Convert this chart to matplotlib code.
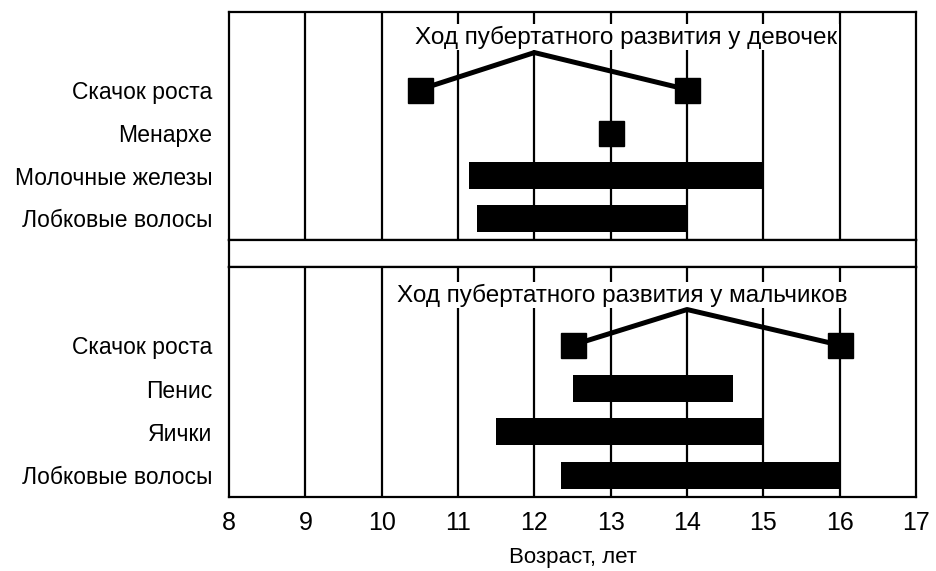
import matplotlib
matplotlib.use("Agg")
import matplotlib.pyplot as plt

plt.rcParams['font.family'] = ['Liberation Sans', 'DejaVu Sans']

# Girls
girls_rows = ["Лобковые волосы", "Молочные железы", "Менархе", "Скачок роста"]
girls_spurt_x = [10.5, 12, 14]
girls_spurt_y = [3, 3.86, 3]
girls_menarche = 13
girls_bars_start = [11.25, 11.15]  # pubic hair, breasts
girls_bars_end = [14, 15]

# Boys
boys_rows = ["Лобковые волосы", "Яички", "Пенис", "Скачок роста"]
boys_spurt_x = [12.5, 14, 16]
boys_spurt_y = [3, 3.82, 3]
boys_bars_start = [12.35, 11.5, 12.5]  # pubic hair, testes, penis
boys_bars_end = [16, 15, 14.6]

grid_x = list(range(9, 17))
xticks = list(range(8, 18))

fig = plt.figure(figsize=(9.36, 5.71), dpi=100)
ax1 = fig.add_axes([0.2447, 0.5797, 0.734, 0.399])
strip = fig.add_axes([0.2447, 0.5324, 0.734, 0.0473])
ax2 = fig.add_axes([0.2447, 0.1296, 0.734, 0.4028])


def setup(ax, rows, title, tx, ty):
    ax.set_xlim(8, 17)
    ax.set_ylim(-0.5, 4.8)
    for g in grid_x:
        ax.axvline(g, color='black', lw=1.6, zorder=1)
    ax.set_yticks(range(len(rows)))
    ax.set_yticklabels(rows, fontsize=16.5)
    ax.tick_params(axis='y', length=0, pad=12)
    ax.set_xticks([])
    for s in ax.spines.values():
        s.set_linewidth(1.6)
    ax.text(tx, ty, title, ha='center', va='center', fontsize=17.5,
            bbox=dict(facecolor='white', edgecolor='none', pad=1), zorder=2)


setup(ax1, girls_rows, "Ход пубертатного развития у девочек", 13.2, 4.22)
setup(ax2, boys_rows, "Ход пубертатного развития у мальчиков", 13.15, 4.15)

bar_h = 0.62
for i in range(len(girls_bars_start)):
    ax1.barh(i, girls_bars_end[i] - girls_bars_start[i], left=girls_bars_start[i],
             height=bar_h, color='black', zorder=3)
ax1.plot(girls_spurt_x, girls_spurt_y, color='black', lw=3.6, zorder=3)
ax1.plot([girls_spurt_x[0], girls_spurt_x[-1]], [3, 3], 's', color='black',
         markersize=18, zorder=4)
ax1.plot([girls_menarche], [2], 's', color='black', markersize=18, zorder=4)

for i in range(len(boys_bars_start)):
    ax2.barh(i, boys_bars_end[i] - boys_bars_start[i], left=boys_bars_start[i],
             height=bar_h, color='black', zorder=3)
ax2.plot(boys_spurt_x, boys_spurt_y, color='black', lw=3.6, zorder=3)
ax2.plot([boys_spurt_x[0], boys_spurt_x[-1]], [3, 3], 's', color='black',
         markersize=18, zorder=4)

ax2.set_xticks(xticks)
ax2.set_xticklabels([str(t) for t in xticks], fontsize=18)
ax2.tick_params(axis='x', length=0, pad=10)
ax2.set_xlabel("Возраст, лет", fontsize=16, labelpad=9)

strip.set_xticks([])
strip.set_yticks([])
for s in strip.spines.values():
    s.set_linewidth(1.6)

fig.savefig("out.png", dpi=100)
